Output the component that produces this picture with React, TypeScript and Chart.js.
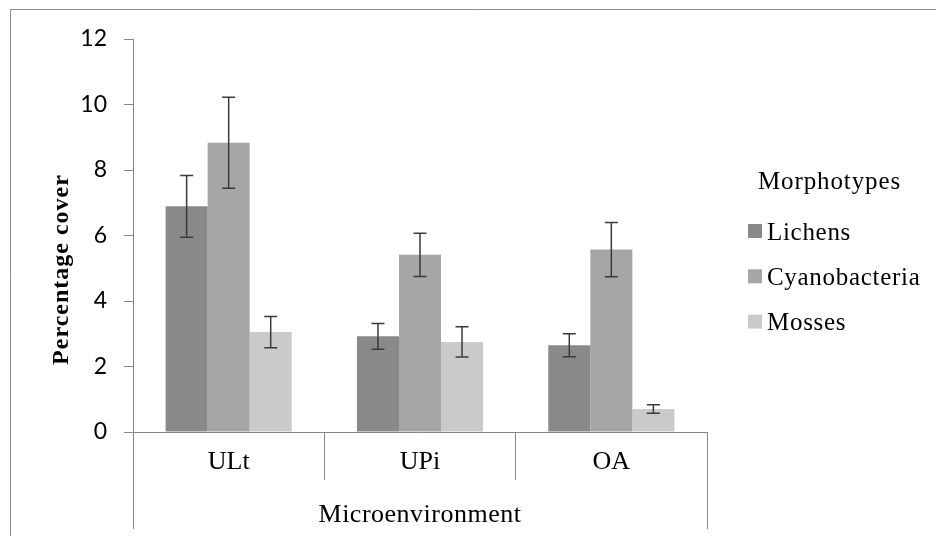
import React, { useEffect, useRef } from 'react';
import { Chart, registerables } from 'chart.js';

Chart.register(...registerables);

const categories = ['ULt', 'UPi', 'OA'];
const seriesNames = ['Lichens', 'Cyanobacteria', 'Mosses'];
const lichens = [6.89, 2.92, 2.65];
const cyanobacteria = [8.83, 5.41, 5.57];
const mosses = [3.05, 2.75, 0.7];
const lichensErr = [0.94, 0.39, 0.35];
const cyanobacteriaErr = [1.39, 0.66, 0.83];
const mossesErr = [0.48, 0.46, 0.13];
const yTicks = [0, 2, 4, 6, 8, 10, 12];
const yTitle = 'Percentage cover';
const xTitle = 'Microenvironment';
const legendTitle = 'Morphotypes';

const seriesColors = ['#898989', '#a6a6a6', '#cacaca'];
const axisColor = '#868686';
const errColor = '#3a3a3a';
const serif = '"Liberation Serif", "Times New Roman", serif';

const errorsBySeries = [lichensErr, cyanobacteriaErr, mossesErr];

const align = (p: number) => Math.round(p - 0.5) + 0.5;

const decorPlugin = {
  id: 'decor',
  beforeDraw(chart: any) {
    const ctx = chart.ctx;
    ctx.save();
    ctx.fillStyle = '#ffffff';
    ctx.fillRect(0, 0, chart.width, chart.height);
    ctx.restore();
  },
  afterDatasetsDraw(chart: any) {
    const ctx = chart.ctx;
    const yScale = chart.scales.y;
    ctx.save();
    ctx.strokeStyle = errColor;
    ctx.lineWidth = 1.5;
    chart.data.datasets.forEach((ds: any, i: number) => {
      const meta = chart.getDatasetMeta(i);
      const errs = errorsBySeries[i];
      meta.data.forEach((bar: any, j: number) => {
        const v = ds.data[j] as number;
        const e = errs[j];
        const yt = yScale.getPixelForValue(v + e);
        const yb = yScale.getPixelForValue(v - e);
        const cx = bar.x;
        const cap = 6.5;
        ctx.beginPath();
        ctx.moveTo(cx, yt);
        ctx.lineTo(cx, yb);
        ctx.moveTo(cx - cap, yt);
        ctx.lineTo(cx + cap, yt);
        ctx.moveTo(cx - cap, yb);
        ctx.lineTo(cx + cap, yb);
        ctx.stroke();
      });
    });
    ctx.restore();
  },
  afterDraw(chart: any) {
    const ctx = chart.ctx;
    const { left, right, bottom } = chart.chartArea;
    ctx.save();
    // outer frame
    ctx.strokeStyle = '#8c8c8c';
    ctx.lineWidth = 1;
    ctx.beginPath();
    ctx.moveTo(10.5, chart.height);
    ctx.lineTo(10.5, 9.5);
    ctx.lineTo(chart.width, 9.5);
    ctx.stroke();

    // outer level of the category axis (edge lines)
    ctx.strokeStyle = axisColor;
    ctx.beginPath();
    ctx.moveTo(align(left), bottom + 48);
    ctx.lineTo(align(left), 529);
    ctx.moveTo(align(right), bottom + 48);
    ctx.lineTo(align(right), 529);
    ctx.stroke();

    const setSpacing = (s: string) => {
      try { (ctx as any).letterSpacing = s; } catch (e) { /* ignore */ }
    };

    // x axis outer label
    ctx.fillStyle = '#000';
    ctx.font = `26px ${serif}`;
    setSpacing('0.5px');
    ctx.textAlign = 'center';
    ctx.textBaseline = 'alphabetic';
    ctx.fillText(xTitle, (left + right) / 2, 521.5);

    // y title
    ctx.save();
    ctx.font = `bold 24px ${serif}`;
    setSpacing('1px');
    ctx.translate(67.5, 269.5);
    ctx.rotate(-Math.PI / 2);
    ctx.textAlign = 'center';
    ctx.fillText(yTitle, 0, 0);
    ctx.restore();

    // legend
    ctx.font = `25px ${serif}`;
    setSpacing('0.9px');
    ctx.textAlign = 'center';
    ctx.fillText(legendTitle, 829.5, 188.5);
    setSpacing('0.7px');
    ctx.textAlign = 'left';
    chart.data.datasets.forEach((ds: any, i: number) => {
      const yTopSq = 224 + i * 45.3;
      ctx.fillStyle = ds.backgroundColor;
      ctx.fillRect(748, yTopSq, 14, 14);
      ctx.fillStyle = '#000';
      ctx.fillText(ds.label, 767, 239.5 + i * 45.3);
    });
    ctx.restore();
  },
};

export default function App() {
  const canvasRef = useRef<HTMLCanvasElement | null>(null);

  useEffect(() => {
    if (!canvasRef.current) return;
    const seriesValues = [lichens, cyanobacteria, mosses];
    const chart = new Chart(canvasRef.current, {
      type: 'bar',
      data: {
        labels: categories,
        datasets: seriesNames.map((name, i) => ({
          label: name,
          data: seriesValues[i],
          backgroundColor: seriesColors[i],
          borderWidth: 0,
          barPercentage: 1,
          categoryPercentage: 0.659,
        })),
      },
      options: {
        responsive: false,
        animation: false,
        events: [],
        layout: { padding: { top: 39, right: 229, left: 0, bottom: 0 } },
        plugins: {
          legend: { display: false },
          tooltip: { enabled: false },
          title: { display: false },
        },
        scales: {
          x: {
            type: 'category',
            grid: {
              display: true,
              offset: true,
              drawOnChartArea: false,
              drawTicks: true,
              tickLength: 48,
              color: axisColor,
              lineWidth: 1,
            },
            border: { display: true, color: axisColor, width: 1 },
            ticks: {
              color: '#000',
              font: { family: serif, size: 26 },
              padding: -33,
              maxRotation: 0,
              autoSkip: false,
            },
            afterFit: (s: any) => {
              s.height = 104;
            },
          },
          y: {
            min: 0,
            max: 12,
            afterBuildTicks: (s: any) => {
              s.ticks = yTicks.map((v) => ({ value: v }));
            },
            ticks: {
              color: '#000',
              font: { family: 'Lato, "Liberation Sans", sans-serif', size: 23 },
              padding: 17,
            },
            grid: {
              drawOnChartArea: false,
              drawTicks: true,
              tickLength: 9,
              color: axisColor,
            },
            border: { display: true, color: axisColor, width: 1 },
            afterFit: (s: any) => {
              s.width = 133;
            },
          },
        },
      },
      plugins: [decorPlugin],
    });
    return () => chart.destroy();
  }, []);

  return (
    <div style={{ position: 'absolute', left: 0, top: 0, width: 936, height: 536, background: '#fff' }}>
      <canvas ref={canvasRef} width={936} height={536} style={{ display: 'block', width: 936, height: 536 }} />
    </div>
  );
}
